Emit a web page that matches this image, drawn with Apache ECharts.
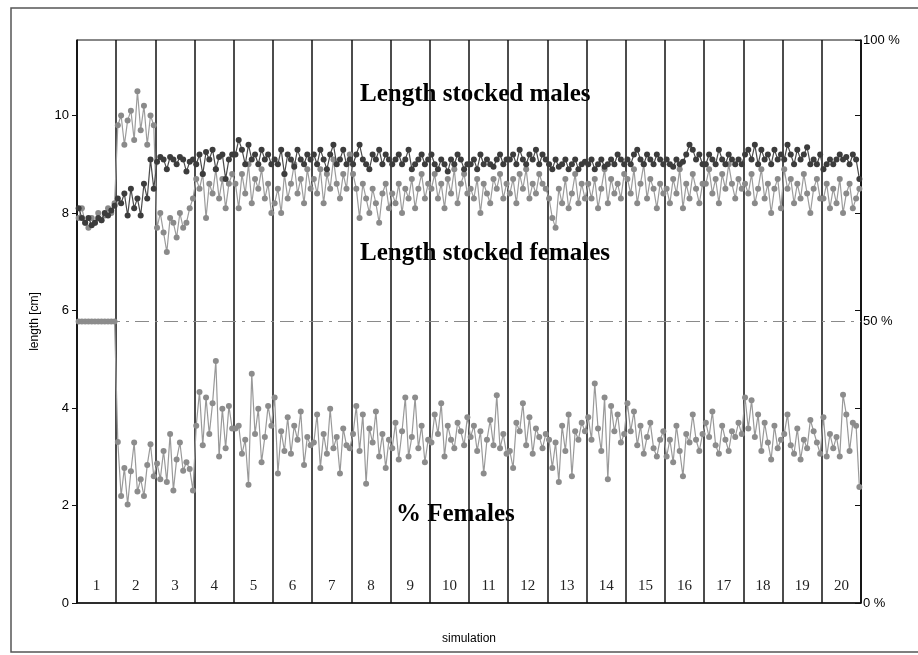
<!DOCTYPE html>
<html>
<head>
<meta charset="utf-8">
<title>Stocking simulations</title>
<script src="https://cdn.jsdelivr.net/npm/echarts@6/dist/echarts.min.js"></script>
<style>
  html, body { margin: 0; padding: 0; background: #fff; }
  #chart { width: 918px; height: 655px; }
</style>
</head>
<body>
<div id="chart"></div>
<script>
// Simulation run labels shown along the bottom of each column
const simulationLabels = ['1','2','3','4','5','6','7','8','9','10','11','12','13','14','15','16','17','18','19','20'];

// Mean length of stocked males per release, cm (12 releases per simulation)
const lengthMales = [
  [8.1, 7.9, 7.8, 7.9, 7.75, 7.8, 7.9, 7.85, 8.0, 7.95, 8.05, 8.15],
  [8.3, 8.2, 8.4, 7.95, 8.5, 8.1, 8.3, 7.95, 8.6, 8.3, 9.1, 8.5],
  [9.05, 9.15, 9.1, 8.9, 9.15, 9.1, 9.0, 9.15, 9.1, 8.85, 9.05, 9.1],
  [9.0, 9.2, 8.8, 9.25, 9.1, 9.3, 8.9, 9.15, 9.2, 8.7, 9.1, 9.2],
  [9.2, 9.5, 9.3, 9.0, 9.4, 9.1, 9.2, 9.0, 9.3, 9.1, 9.2, 9.0],
  [9.1, 9.0, 9.3, 8.8, 9.2, 9.1, 8.95, 9.3, 9.1, 9.0, 9.2, 9.1],
  [9.2, 9.0, 9.3, 9.1, 8.9, 9.2, 9.4, 9.0, 9.1, 9.3, 9.0, 9.1],
  [9.0, 9.2, 9.4, 9.1, 9.0, 8.9, 9.2, 9.1, 9.3, 9.0, 9.2, 9.1],
  [9.0, 9.1, 9.2, 9.0, 9.1, 9.3, 8.9, 9.0, 9.1, 9.2, 9.0, 9.1],
  [9.2, 9.0, 8.9, 9.1, 9.0, 8.85, 9.1, 9.0, 9.2, 9.1, 8.9, 9.0],
  [9.0, 9.1, 8.9, 9.2, 9.0, 9.1, 9.0, 8.95, 9.1, 9.2, 9.0, 9.1],
  [9.1, 9.2, 9.0, 9.3, 9.1, 9.0, 9.2, 9.1, 9.3, 9.0, 9.2, 9.1],
  [9.0, 8.9, 9.1, 8.95, 9.0, 9.1, 8.9, 9.0, 9.1, 8.9, 9.0, 9.05],
  [9.0, 9.1, 8.9, 9.0, 9.1, 8.95, 9.0, 9.1, 9.0, 9.2, 9.1, 9.0],
  [9.1, 9.0, 9.2, 9.3, 9.1, 9.0, 9.2, 9.1, 9.0, 9.2, 9.1, 9.0],
  [9.1, 9.0, 8.95, 9.1, 9.0, 9.05, 9.2, 9.4, 9.3, 9.1, 9.2, 9.0],
  [9.0, 9.2, 9.1, 9.0, 9.3, 9.1, 9.0, 9.2, 9.1, 9.0, 9.1, 9.0],
  [9.2, 9.3, 9.1, 9.4, 9.0, 9.3, 9.1, 9.2, 9.0, 9.3, 9.1, 9.2],
  [9.1, 9.4, 9.2, 9.0, 9.3, 9.1, 9.2, 9.35, 9.0, 9.1, 9.0, 9.2],
  [8.9, 9.0, 9.1, 9.0, 9.1, 9.2, 9.1, 9.15, 9.0, 9.2, 9.1, 8.7]
];

// Mean length of stocked females per release, cm
const lengthFemales = [
  [7.9, 8.1, 7.8, 7.7, 7.9, 7.8, 8.0, 7.85, 7.95, 8.1, 8.0, 8.2],
  [9.8, 10.0, 9.4, 9.9, 10.1, 9.5, 10.5, 9.7, 10.2, 9.4, 10.0, 9.8],
  [7.7, 8.0, 7.6, 7.2, 7.9, 7.8, 7.5, 8.0, 7.7, 7.8, 8.1, 8.3],
  [8.7, 8.5, 8.8, 7.9, 8.6, 8.4, 8.9, 8.3, 8.7, 8.1, 8.6, 8.8],
  [8.6, 8.1, 8.8, 8.4, 9.0, 8.2, 8.7, 8.5, 8.9, 8.3, 8.6, 8.0],
  [8.2, 8.5, 8.0, 8.8, 8.3, 8.6, 9.0, 8.4, 8.7, 8.2, 8.9, 8.5],
  [8.7, 8.4, 8.9, 8.2, 8.8, 8.5, 9.1, 8.6, 8.3, 8.8, 8.5, 9.2],
  [8.8, 8.5, 7.9, 8.6, 8.3, 8.0, 8.5, 8.2, 7.8, 8.4, 8.6, 8.1],
  [8.4, 8.2, 8.6, 8.0, 8.5, 8.3, 8.7, 8.1, 8.5, 8.8, 8.3, 8.6],
  [8.5, 8.8, 8.3, 8.6, 8.1, 8.7, 8.4, 8.9, 8.2, 8.6, 8.8, 8.4],
  [8.5, 8.3, 8.7, 8.0, 8.6, 8.4, 8.2, 8.7, 8.5, 8.8, 8.3, 8.6],
  [8.4, 8.7, 8.2, 8.8, 8.5, 8.9, 8.3, 8.6, 8.4, 8.8, 8.6, 8.5],
  [8.3, 7.9, 7.7, 8.5, 8.2, 8.7, 8.1, 8.4, 8.8, 8.2, 8.6, 8.3],
  [8.6, 8.3, 8.7, 8.1, 8.5, 8.9, 8.2, 8.7, 8.4, 8.6, 8.3, 8.8],
  [8.7, 8.4, 8.9, 8.2, 8.6, 9.0, 8.3, 8.7, 8.5, 8.1, 8.6, 8.4],
  [8.5, 8.2, 8.7, 8.4, 8.9, 8.1, 8.6, 8.3, 8.8, 8.5, 8.2, 8.6],
  [8.6, 8.9, 8.4, 8.7, 8.2, 8.8, 8.5, 9.0, 8.6, 8.3, 8.7, 8.5],
  [8.6, 8.4, 8.8, 8.2, 8.5, 8.9, 8.3, 8.6, 8.0, 8.5, 8.7, 8.1],
  [8.9, 8.5, 8.7, 8.2, 8.6, 8.3, 8.8, 8.4, 8.0, 8.5, 8.7, 8.3],
  [8.3, 8.6, 8.1, 8.5, 8.2, 8.7, 8.0, 8.4, 8.6, 8.1, 8.3, 8.5]
];

// Share of females among stocked fish per release, %
const percentFemales = [
  [50, 50, 50, 50, 50, 50, 50, 50, 50, 50, 50, 50],
  [28.6, 19.0, 24.0, 17.5, 23.4, 28.5, 19.8, 22.0, 19.0, 24.5, 28.2, 22.5],
  [24.8, 22.0, 27.0, 21.5, 30.0, 20.0, 25.5, 28.5, 23.5, 25.0, 23.8, 20.0],
  [31.5, 37.5, 28.0, 36.5, 30.0, 35.5, 43.0, 26.0, 34.5, 27.5, 35.0, 31.0],
  [31.0, 31.5, 26.5, 29.0, 21.0, 40.7, 30.0, 34.5, 25.0, 29.5, 35.0, 31.5],
  [36.5, 23.0, 30.5, 27.0, 33.0, 26.5, 31.5, 29.0, 34.0, 24.5, 29.5, 28.0],
  [28.5, 33.5, 24.0, 30.0, 26.5, 34.5, 27.5, 29.5, 23.0, 31.0, 28.0, 27.5],
  [30.0, 35.0, 27.0, 33.5, 21.2, 31.0, 28.5, 34.0, 26.0, 30.0, 24.0, 29.0],
  [27.5, 32.0, 25.5, 30.5, 36.5, 26.0, 29.5, 36.5, 27.5, 31.5, 25.0, 29.0],
  [28.5, 33.5, 30.0, 35.5, 26.0, 31.5, 29.0, 27.5, 32.0, 30.5, 28.0, 33.0],
  [29.5, 31.5, 27.0, 30.5, 23.0, 29.0, 32.5, 28.0, 36.9, 27.5, 30.0, 26.5],
  [27.0, 24.0, 32.0, 30.5, 35.5, 28.0, 33.0, 26.5, 31.0, 29.5, 27.5, 30.0],
  [29.0, 24.0, 28.5, 21.5, 31.5, 27.0, 33.5, 22.5, 30.5, 29.0, 32.0, 30.5],
  [33.0, 29.0, 39.0, 31.0, 27.0, 36.5, 22.0, 35.0, 30.5, 33.5, 28.5, 30.0],
  [35.5, 30.5, 34.0, 28.0, 31.5, 26.5, 29.5, 32.0, 27.5, 26.0, 29.0, 30.5],
  [26.0, 29.0, 25.0, 31.5, 27.0, 22.5, 30.0, 28.5, 33.5, 29.0, 27.0, 30.0],
  [32.0, 29.5, 34.0, 28.0, 26.5, 31.5, 29.0, 27.0, 30.5, 29.5, 32.0, 30.0],
  [36.5, 31.0, 36.0, 29.5, 33.5, 27.0, 32.0, 28.5, 25.5, 31.5, 27.5, 29.0],
  [30.0, 33.5, 28.0, 26.5, 31.0, 25.5, 29.0, 27.5, 32.5, 30.5, 28.5, 26.5],
  [33.0, 26.0, 30.0, 27.5, 29.5, 26.0, 37.0, 33.5, 27.0, 32.0, 31.5, 20.6]
];

// Left axis spans 0..LENGTH_MAX cm, right axis spans 0..100 % over the same height
const LENGTH_MAX = 11.55;

// Spread the releases of each simulation evenly across its column
function toPoints(groups) {
  const pts = [];
  groups.forEach(function (g, s) {
    g.forEach(function (v, i) {
      pts.push([s + (i + 0.5) / g.length, v]);
    });
  });
  return pts;
}

const chart = echarts.init(document.getElementById('chart'), null, { renderer: 'canvas' });

const sans = 'Liberation Sans, Arial, sans-serif';
const serif = 'Liberation Serif, Times New Roman, serif';

function lineSeries(name, data, yIndex, color, lineColor, extra) {
  return Object.assign({
    name: name,
    type: 'line',
    xAxisIndex: 0,
    yAxisIndex: yIndex,
    data: data,
    symbol: 'circle',
    symbolSize: 6,
    showSymbol: true,
    showAllSymbol: true,
    itemStyle: { color: color },
    lineStyle: { color: lineColor, width: 1.2 },
    emphasis: { disabled: true },
    animation: false
  }, extra || {});
}

chart.setOption({
  backgroundColor: '#fff',
  animation: false,
  grid: {
    left: 77, right: 57, top: 40, bottom: 52,
    show: true, borderColor: '#111', borderWidth: 1, backgroundColor: 'transparent'
  },
  xAxis: [
    {
      type: 'value', min: 0, max: 20, interval: 1,
      position: 'bottom',
      name: 'simulation', nameLocation: 'middle', nameGap: 30,
      nameTextStyle: { fontFamily: sans, fontSize: 12, color: '#000' },
      axisLine: { show: true, lineStyle: { color: '#111', width: 1.5 } },
      axisTick: { show: false },
      axisLabel: { show: false },
      splitLine: { show: true, lineStyle: { color: '#111', width: 1.5 } }
    },
    {
      type: 'category', data: simulationLabels,
      position: 'bottom', boundaryGap: true,
      axisLine: { show: false },
      axisTick: { show: false },
      splitLine: { show: false },
      axisLabel: {
        inside: true, margin: 9, interval: 0,
        fontFamily: serif, fontSize: 15, color: '#222'
      }
    }
  ],
  yAxis: [
    {
      type: 'value', min: 0, max: LENGTH_MAX, interval: 2,
      position: 'left',
      name: 'length [cm]', nameLocation: 'middle', nameGap: 36, nameRotate: 90,
      nameTextStyle: { fontFamily: sans, fontSize: 12, color: '#000' },
      axisLine: { show: true, lineStyle: { color: '#111', width: 1.5 } },
      axisTick: { show: true, length: 5, lineStyle: { color: '#111' } },
      axisLabel: { showMaxLabel: false, margin: 8, fontFamily: sans, fontSize: 13, color: '#000' },
      splitLine: { show: false }
    },
    {
      type: 'value', min: 0, max: 100, interval: 50,
      position: 'right',
      axisLine: { show: true, lineStyle: { color: '#111', width: 1.5 } },
      axisTick: { show: false },
      axisLabel: {
        margin: 2, fontFamily: sans, fontSize: 13, color: '#000',
        formatter: function (v) { return v + ' %'; }
      },
      splitLine: { show: false }
    },
    {
      type: 'value', min: 0, max: LENGTH_MAX, interval: 2,
      position: 'right',
      axisLine: { show: false },
      axisTick: { show: true, inside: true, length: 6, lineStyle: { color: '#111' } },
      axisLabel: { show: false },
      splitLine: { show: false }
    }
  ],
  series: [
    lineSeries('% Females', toPoints(percentFemales), 1, '#8c8c8c', '#999999', {
      z: 2,
      markLine: {
        silent: true,
        symbol: 'none',
        label: { show: false },
        lineStyle: { color: '#8a8a8a', width: 1, type: [14, 6, 3, 6] },
        data: [{ yAxis: 50 }],
        animation: false
      }
    }),
    lineSeries('Length stocked females', toPoints(lengthFemales), 0, '#8a8a8a', '#9c9c9c', { z: 3 }),
    lineSeries('Length stocked males', toPoints(lengthMales), 0, '#3c3c3c', '#4a4a4a', { z: 4 })
  ],
  graphic: [
    {
      type: 'rect', silent: true, z: -1,
      shape: { x: 11, y: 8, width: 920, height: 644 },
      style: { fill: 'none', stroke: '#555', lineWidth: 1.5 }
    },
    {
      type: 'text', left: 360, top: 82, silent: true,
      style: { text: 'Length stocked males', font: 'bold 25px ' + serif, fill: '#000' }
    },
    {
      type: 'text', left: 360, top: 241, silent: true,
      style: { text: 'Length stocked females', font: 'bold 25px ' + serif, fill: '#000' }
    },
    {
      type: 'text', left: 396, top: 502, silent: true,
      style: { text: '% Females', font: 'bold 25px ' + serif, fill: '#000' }
    }
  ]
});
</script>
</body>
</html>
